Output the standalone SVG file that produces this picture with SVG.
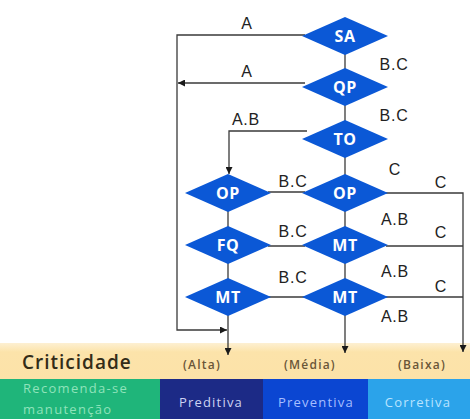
<svg xmlns="http://www.w3.org/2000/svg" width="470" height="419" viewBox="0 0 470 419">
<defs>
<marker id="ah" viewBox="0 0 10 10" refX="10" refY="5" markerWidth="7" markerHeight="7" orient="auto" markerUnits="userSpaceOnUse">
<path d="M0,0 L10,5 L0,10 Z" fill="#1a1a1a"/>
</marker>
<linearGradient id="tan" x1="0" y1="0" x2="0" y2="1">
<stop offset="0" stop-color="#fdf0d2"/>
<stop offset="0.25" stop-color="#fce3aa"/>
<stop offset="1" stop-color="#fce2a8"/>
</linearGradient>
</defs>
<style>
.ln{fill:none;stroke:#3a3a3a;stroke-width:1.3}
.dm{fill:#0b58d6}
.nl{font-family:"Open Sans","Liberation Sans",sans-serif;font-weight:700;font-size:16px;letter-spacing:0.5px;fill:#ffffff;text-anchor:middle}
.el{font-family:"Liberation Sans",Arial,sans-serif;font-size:16px;letter-spacing:0.8px;fill:#222222;text-anchor:middle}
.cr{font-family:"Open Sans","Liberation Sans",sans-serif;font-size:12px;font-weight:600;letter-spacing:1.2px;fill:#6a5638;text-anchor:middle}
.bt{font-family:"Open Sans","Liberation Sans",sans-serif;font-size:13px;letter-spacing:1.2px;text-anchor:middle}
.bs{font-family:"Open Sans","Liberation Sans",sans-serif;font-size:13px;letter-spacing:1.3px;text-anchor:start;fill:#8fe3bb}
</style>
<rect x="0" y="0" width="470" height="419" fill="#ffffff"/>
<g id="bands">
<rect x="0" y="343" width="470" height="36" fill="url(#tan)"/>
<rect x="0" y="379" width="160" height="40" fill="#1fb57a"/>
<rect x="160" y="379" width="103" height="40" fill="#1c2a86"/>
<rect x="263" y="379" width="105" height="40" fill="#0b46d2"/>
<rect x="368" y="379" width="102" height="40" fill="#2ba3ea"/>
<text x="22" y="369" font-family="Open Sans, Liberation Sans, sans-serif" font-size="19" font-weight="600" letter-spacing="1" fill="#332c18">Criticidade</text>
<text class="cr" x="202" y="369">(Alta)</text>
<text class="cr" x="310" y="369">(Média)</text>
<text class="cr" x="422" y="369">(Baixa)</text>
<text class="bs" x="23" y="393">Recomenda-se</text>
<text class="bs" x="23" y="414">manutenção</text>
<text class="bt" x="211" y="407" fill="#cdd3f2">Preditiva</text>
<text class="bt" x="316" y="407" fill="#a6bfff">Preventiva</text>
<text class="bt" x="418" y="407" fill="#b9e4ff">Corretiva</text>
</g>
<g id="connectors">
<path class="ln" d="M345,36 V353" marker-end="url(#ah)"/>
<path class="ln" d="M228,193 V355" marker-end="url(#ah)"/>
<path class="ln" d="M305,35 H177 V330 H227" marker-end="url(#ah)"/>
<path class="ln" d="M305,83 H178" marker-end="url(#ah)"/>
<path class="ln" d="M307,131 H229 V174" marker-end="url(#ah)"/>
<path class="ln" d="M268,192 H305"/>
<path class="ln" d="M268,246 H305"/>
<path class="ln" d="M268,297 H305"/>
<path class="ln" d="M386,193 H463 V352" marker-end="url(#ah)"/>
<path class="ln" d="M386,246 H463"/>
<path class="ln" d="M386,297 H463"/>
<text class="el" x="247" y="29">A</text>
<text class="el" x="247" y="77">A</text>
<text class="el" x="246" y="125">A.B</text>
<text class="el" x="394" y="70">B.C</text>
<text class="el" x="394" y="121">B.C</text>
<text class="el" x="395" y="175">C</text>
<text class="el" x="441" y="188">C</text>
<text class="el" x="293" y="187">B.C</text>
<text class="el" x="395" y="225">A.B</text>
<text class="el" x="441" y="238">C</text>
<text class="el" x="293" y="237">B.C</text>
<text class="el" x="395" y="277">A.B</text>
<text class="el" x="293" y="283">B.C</text>
<text class="el" x="441" y="292">C</text>
<text class="el" x="395" y="322">A.B</text>
</g>
<g id="SA"><path class="dm" d="M302,36 L345,17 L388,36 L345,55 Z"/><text class="nl" x="345" y="42">SA</text></g>
<g id="QP"><path class="dm" d="M302,87 L345,68 L388,87 L345,106 Z"/><text class="nl" x="345" y="93">QP</text></g>
<g id="TO"><path class="dm" d="M302,139 L345,120 L388,139 L345,158 Z"/><text class="nl" x="345" y="145">TO</text></g>
<g id="OP_right"><path class="dm" d="M302,193 L345,174 L388,193 L345,212 Z"/><text class="nl" x="345" y="199">OP</text></g>
<g id="MT_mid"><path class="dm" d="M302,245 L345,226 L388,245 L345,264 Z"/><text class="nl" x="345" y="251">MT</text></g>
<g id="MT_right"><path class="dm" d="M302,297 L345,278 L388,297 L345,316 Z"/><text class="nl" x="345" y="303">MT</text></g>
<g id="OP_left"><path class="dm" d="M185,193 L228,174 L271,193 L228,212 Z"/><text class="nl" x="228" y="199">OP</text></g>
<g id="FQ"><path class="dm" d="M185,245 L228,226 L271,245 L228,264 Z"/><text class="nl" x="228" y="251">FQ</text></g>
<g id="MT_left"><path class="dm" d="M185,297 L228,278 L271,297 L228,316 Z"/><text class="nl" x="228" y="303">MT</text></g>
</svg>
